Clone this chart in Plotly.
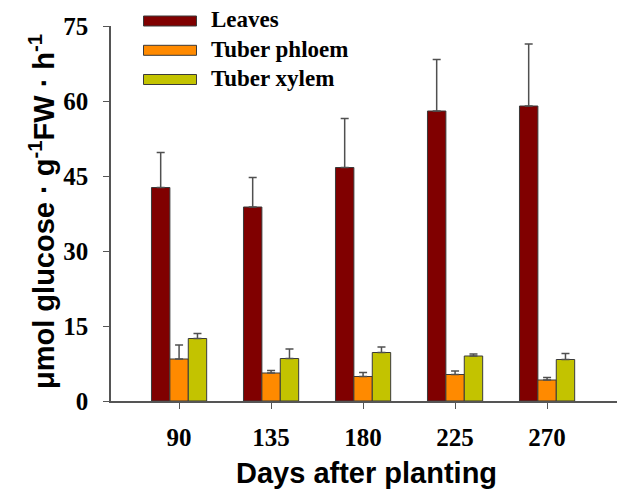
import plotly.graph_objects as go

days = ["90", "135", "180", "225", "270"]
leaves = [42.7, 38.8, 46.7, 58.0, 59.0]
leaves_err = [7.0, 5.9, 9.8, 10.3, 12.4]
phloem = [8.4, 5.6, 4.9, 5.3, 4.2]
phloem_err = [2.8, 0.5, 0.8, 0.7, 0.5]
xylem = [12.5, 8.5, 9.7, 9.0, 8.3]
xylem_err = [1.0, 1.9, 1.1, 0.4, 1.2]

series_names = ["Leaves", "Tuber phloem", "Tuber xylem"]
colors = ["#800000", "#FF8A00", "#C3C300"]
y_ticks = [0, 15, 30, 45, 60, 75]

# the page body has an 8px margin; work in screen pixels and subtract it
OFF = 8
W, H = 643 - OFF, 504 - OFF
PLOT_L, PLOT_R, PLOT_T, PLOT_B = 111, 617, 26, 401   # screen pixels
L, T = PLOT_L - OFF, PLOT_T - OFF
R, B = W - (PLOT_R - OFF), H - (PLOT_B - OFF)
pw, ph = PLOT_R - PLOT_L, PLOT_B - PLOT_T

def px_x(x):
    return (x - PLOT_L) / pw

def px_y(y):
    return (PLOT_B - y) / ph

fig = go.Figure()
for name, vals, errs, col in zip(series_names, [leaves, phloem, xylem],
                                 [leaves_err, phloem_err, xylem_err], colors):
    fig.add_trace(go.Bar(
        x=days, y=vals, name=name, showlegend=False,
        marker=dict(color=col, line=dict(color="#3a3a3a", width=1)),
        error_y=dict(type="data", array=errs, arrayminus=[0] * len(errs),
                     symmetric=False, color="#505050", thickness=1.5, width=4),
    ))

# custom legend (wide swatches like the original)
legend_rows = [21, 50.3, 79.5]
for name, col, yc in zip(series_names, colors, legend_rows):
    fig.add_shape(type="rect", xref="paper", yref="paper",
                  x0=px_x(143.5), x1=px_x(196.5), y0=px_y(yc + 5), y1=px_y(yc - 5),
                  fillcolor=col, line=dict(color="#3a3a3a", width=1))
    fig.add_annotation(text="<b>%s</b>" % name, xref="paper", yref="paper",
                       x=px_x(209), y=px_y(yc - 1), xanchor="left", yanchor="middle",
                       showarrow=False,
                       font=dict(family="Liberation Serif", size=23, color="black"))

fig.add_annotation(text="<b>Days after planting</b>", xref="paper", yref="paper",
                   x=px_x(366), y=px_y(472.5), xanchor="center", yanchor="middle",
                   showarrow=False,
                   font=dict(family="Liberation Sans", size=29, color="black"))
fig.add_annotation(text="<b>μmol glucose · g<sup>-1</sup>FW · h<sup>-1</sup></b>",
                   xref="paper", yref="paper", textangle=-90,
                   x=px_x(42), y=px_y(212), xanchor="center", yanchor="middle",
                   showarrow=False,
                   font=dict(family="Liberation Sans", size=29, color="black"))

fig.update_layout(
    width=W, height=H,
    margin=dict(l=L, r=R, t=T, b=B, autoexpand=False),
    paper_bgcolor="white", plot_bgcolor="white",
    barmode="group", bargap=0.4, bargroupgap=0,
    xaxis=dict(type="category", range=[-0.74, 4.76], automargin=False,
               showline=True, linecolor="#555", linewidth=1.5,
               ticks="outside", ticklen=6, tickcolor="#555",
               ticklabelstandoff=7,
               tickfont=dict(family="Liberation Serif", size=25, color="black", weight="bold"),
               showgrid=False, zeroline=False),
    yaxis=dict(range=[0, 75], tickvals=y_ticks, automargin=False,
               showline=True, linecolor="#555", linewidth=1.5,
               ticks="outside", ticklen=6, tickcolor="#555",
               ticklabelstandoff=10,
               tickfont=dict(family="Liberation Serif", size=25, color="black", weight="bold"),
               showgrid=False, zeroline=False),
)

fig.write_html("out.html")
